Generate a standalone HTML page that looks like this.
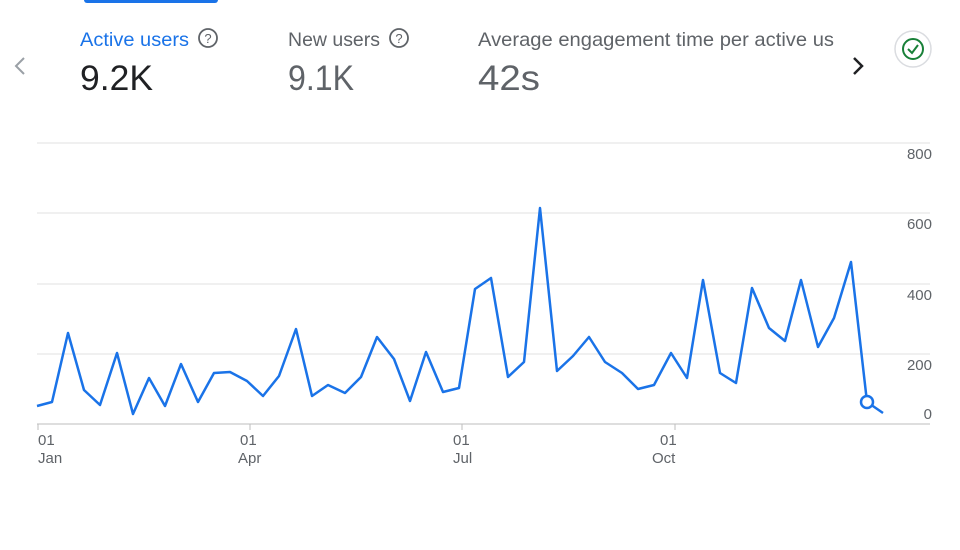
<!DOCTYPE html>
<html><head><meta charset="utf-8"><style>
body{margin:0;width:960px;height:545px;background:#fff;overflow:hidden;font-family:"Liberation Sans",sans-serif}
</style></head><body>
<svg width="960" height="545" viewBox="0 0 960 545" xmlns="http://www.w3.org/2000/svg" font-family="Liberation Sans, sans-serif">
<rect x="84" y="-4" width="134" height="7" rx="3" fill="#1a73e8"/>
<polyline points="24,58 16,66 24,74" fill="none" stroke="#9aa0a6" stroke-width="2"/>
<text x="80" y="46" font-size="19.5" fill="#1a73e8" textLength="109" lengthAdjust="spacingAndGlyphs">Active users</text>
<circle cx="208" cy="38" r="9" fill="none" stroke="#5f6368" stroke-width="1.8"/><text x="208" y="43" font-size="13" fill="#5f6368" text-anchor="middle">?</text>
<text x="80" y="90" font-size="35" fill="#202124" textLength="73" lengthAdjust="spacingAndGlyphs">9.2K</text>
<text x="288" y="46" font-size="19.5" fill="#5f6368" textLength="92" lengthAdjust="spacingAndGlyphs">New users</text>
<circle cx="399" cy="38" r="9" fill="none" stroke="#5f6368" stroke-width="1.8"/><text x="399" y="43" font-size="13" fill="#5f6368" text-anchor="middle">?</text>
<text x="288" y="90" font-size="35" fill="#5f6368" textLength="66" lengthAdjust="spacingAndGlyphs">9.1K</text>
<text x="478" y="46" font-size="19.5" fill="#5f6368" textLength="356" lengthAdjust="spacingAndGlyphs">Average engagement time per active us</text>
<text x="478" y="90" font-size="35" fill="#5f6368" textLength="62" lengthAdjust="spacingAndGlyphs">42s</text>
<polyline points="854,58 862,66 854,74" fill="none" stroke="#202124" stroke-width="2.5"/>
<circle cx="913" cy="49" r="18" fill="#fff" stroke="#dadce0" stroke-width="1.5"/>
<circle cx="913" cy="49" r="10" fill="none" stroke="#188038" stroke-width="2"/>
<polyline points="908,49 912,53 918,45" fill="none" stroke="#188038" stroke-width="2"/>
<g stroke="#e0e0e0" stroke-width="1">
<line x1="37" y1="143" x2="888" y2="143"/><line x1="37" y1="213" x2="888" y2="213"/>
<line x1="37" y1="284" x2="888" y2="284"/><line x1="37" y1="354" x2="888" y2="354"/>
<line x1="37" y1="424" x2="930" y2="424" stroke="#bdbdbd"/>
<line x1="888" y1="143" x2="930" y2="143"/><line x1="888" y1="213" x2="930" y2="213"/><line x1="888" y1="284" x2="930" y2="284"/><line x1="888" y1="354" x2="930" y2="354"/>
</g>
<g font-size="15" fill="#5f6368" text-anchor="end">
<text x="932" y="159">800</text><text x="932" y="229">600</text><text x="932" y="300">400</text><text x="932" y="370">200</text><text x="932" y="419">0</text>
</g>
<g stroke="#bdbdbd"><line x1="38" y1="424" x2="38" y2="430"/><line x1="250" y1="424" x2="250" y2="430"/><line x1="462" y1="424" x2="462" y2="430"/><line x1="675" y1="424" x2="675" y2="430"/></g>
<g font-size="15" fill="#5f6368">
<text x="38" y="445">01</text><text x="38" y="463">Jan</text>
<text x="240" y="445">01</text><text x="238" y="463">Apr</text>
<text x="453" y="445">01</text><text x="453" y="463">Jul</text>
<text x="660" y="445">01</text><text x="652" y="463">Oct</text>
</g>
<polyline fill="none" stroke="#1a73e8" stroke-width="2.5" stroke-linejoin="round" points="37,406 52,402 68,333 84,390 100,405 117,353 133,414 149,378 165,406 181,364 198,402 214,373 230,372 247,381 263,396 279,376 296,329 312,396 328,385 345,393 361,377 377,337 394,359 410,401 426,352 443,392 459,388 475,289 491,278 508,377 524,362 540,208 557,371 573,356 589,337 605,362 622,373 638,389 654,385 671,353 687,378 703,280 720,373 736,383 752,288 769,328 785,341 801,280 818,347 834,318 851,262 867,402 883,413"/>
<circle cx="867" cy="402" r="6" fill="#fff" stroke="#1a73e8" stroke-width="2.5"/>
</svg>
</body></html>
